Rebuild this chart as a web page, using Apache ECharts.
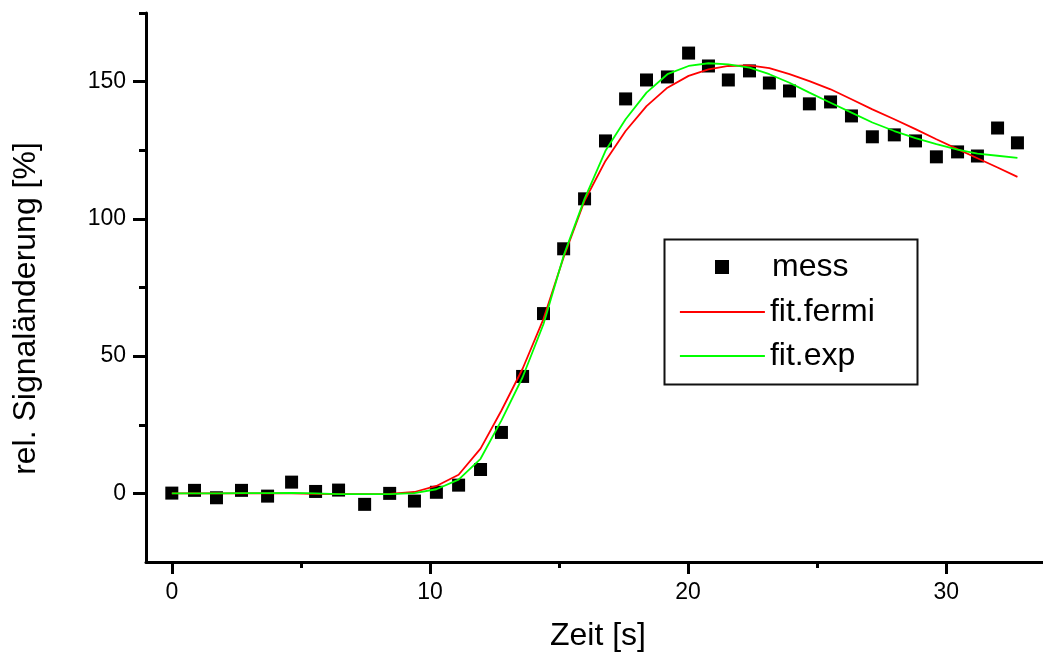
<!DOCTYPE html>
<html>
<head>
<meta charset="utf-8">
<script src="https://cdn.jsdelivr.net/npm/echarts@6/dist/echarts.min.js"></script>
<style>
html,body{margin:0;padding:0;background:#fff;}
#chart{width:1043px;height:657px;}
</style>
</head>
<body>
<div id="chart"></div>
<script>
// Data
var time = [0,0.88,1.73,2.70,3.71,4.64,5.57,6.46,7.47,8.44,9.40,10.25,11.11,11.96,12.77,13.59,14.40,15.18,15.99,16.80,17.58,18.39,19.20,20.02,20.79,21.56,22.38,23.15,23.93,24.70,25.52,26.33,27.14,27.99,28.81,29.62,30.44,31.21,31.99,32.76];
var mess = [0.1,1.1,-1.6,1.1,-1.0,4.1,0.7,1.2,-4.0,0,-2.8,0.4,3.0,8.7,22.2,42.6,65.5,89.1,107.3,128.4,143.7,150.6,151.7,160.4,155.7,150.6,153.9,149.5,146.6,141.9,142.6,137.5,129.9,130.6,128.4,122.6,124.4,122.9,133.1,127.7];
var fitFermi = [0,0,0,0,0,0,-0.2,-0.3,-0.3,-0.2,0.5,2.7,6.8,16.3,30.2,45.4,63.6,86.0,106.6,121.1,132.0,141.1,147.8,152.1,154.5,155.7,155.9,154.9,152.7,150.2,147.2,143.6,139.9,136.3,132.7,129.0,125.4,122.1,118.7,115.3];
var fitExp = [0,0,0,0.1,0.1,0.2,0,-0.3,-0.3,-0.3,0.1,1.5,5.0,12.6,26.6,42.3,61.7,86.6,107.3,124.8,136.3,146.0,152.7,155.7,156.7,156.3,155.1,152.7,149.6,146.0,142.3,138.7,135.1,132.0,129.4,127.2,125.2,123.8,123.0,122.2];
var xMajorTicks = [0,10,20,30];
var xMinorTicks = [5,15,25];
var yMajorTicks = [0,50,100,150];
var yMinorTicks = [25,75,125,175];
var seriesNames = ['mess','fit.fermi','fit.exp'];
var xTitle = 'Zeit [s]';
var yTitle = 'rel. Signaländerung [%]';

function pairs(xs, ys){ return xs.map(function(x,i){ return [x, ys[i]]; }); }

var FONT = 'Liberation Sans, Arial, sans-serif';
var chart = echarts.init(document.getElementById('chart'), null, {renderer:'canvas'});
var axisLineStyle = {color:'#000', width:3};

chart.setOption({
  animation:false,
  backgroundColor:'#fff',
  grid:{left:146, right:0, top:13, bottom:95, containLabel:false},
  xAxis:[{
    type:'value', min:-1, max:33.75,
    name:xTitle, nameLocation:'middle', nameGap:58,
    nameTextStyle:{fontFamily:FONT, fontSize:32, color:'#000', padding:[0,0,0,7]},
    axisLine:{show:true, onZero:false, lineStyle:axisLineStyle},
    axisTick:{show:true, length:12, customValues:xMajorTicks, lineStyle:{color:'#000', width:3}},
    axisLabel:{show:true, margin:19, customValues:xMajorTicks, fontFamily:FONT, fontSize:23, color:'#000'},
    splitLine:{show:false}
  },{
    type:'value', min:-1, max:33.75, position:'bottom',
    axisLine:{show:false, onZero:false},
    axisTick:{show:true, length:6, customValues:xMinorTicks, lineStyle:{color:'#000', width:3}},
    axisLabel:{show:false},
    splitLine:{show:false}
  }],
  yAxis:[{
    type:'value', min:-25, max:175,
    name:yTitle, nameLocation:'middle', nameGap:104,
    nameTextStyle:{fontFamily:FONT, fontSize:32, color:'#000', padding:[0,42,0,0]},
    axisLine:{show:true, onZero:false, lineStyle:axisLineStyle},
    axisTick:{show:true, length:13, customValues:yMajorTicks, lineStyle:{color:'#000', width:3}},
    axisLabel:{show:true, margin:20, customValues:yMajorTicks, fontFamily:FONT, fontSize:23, color:'#000'},
    splitLine:{show:false}
  },{
    type:'value', min:-25, max:175, position:'left',
    axisLine:{show:false, onZero:false},
    axisTick:{show:true, length:7, customValues:yMinorTicks, lineStyle:{color:'#000', width:3}},
    axisLabel:{show:false},
    splitLine:{show:false}
  }],
  legend:[{
    data:[seriesNames[0]],
    orient:'vertical', left:715, top:251, padding:0,
    itemWidth:14, itemHeight:14,
    itemStyle:{opacity:1},
    textStyle:{fontFamily:FONT, fontSize:32, color:'#000', padding:[0,0,0,38]}
  },{
    data:[seriesNames[1], seriesNames[2]],
    orient:'vertical', left:679, top:296, padding:0, itemGap:12,
    itemWidth:85, itemHeight:14,
    itemStyle:{opacity:0},
    lineStyle:{opacity:1, width:1.8},
    textStyle:{fontFamily:FONT, fontSize:32, color:'#000'}
  }],
  graphic:[{
    type:'rect', left:662, top:237, z:100,
    shape:{width:253, height:145},
    style:{fill:'none', stroke:'#111', lineWidth:2}
  }],
  series:[{
    name:seriesNames[0], type:'scatter', xAxisIndex:0, yAxisIndex:0,
    symbol:'rect', symbolSize:13,
    itemStyle:{color:'#000', opacity:1},
    data:pairs(time, mess), z:2
  },{
    name:seriesNames[1], type:'line', xAxisIndex:0, yAxisIndex:0,
    symbol:'none', smooth:false,
    lineStyle:{color:'#ff0000', width:1.8},
    itemStyle:{color:'#ff0000'},
    data:pairs(time, fitFermi), z:3
  },{
    name:seriesNames[2], type:'line', xAxisIndex:0, yAxisIndex:0,
    symbol:'none', smooth:false,
    lineStyle:{color:'#00ff00', width:1.8},
    itemStyle:{color:'#00ff00'},
    data:pairs(time, fitExp), z:4
  }]
});
</script>
</body>
</html>
